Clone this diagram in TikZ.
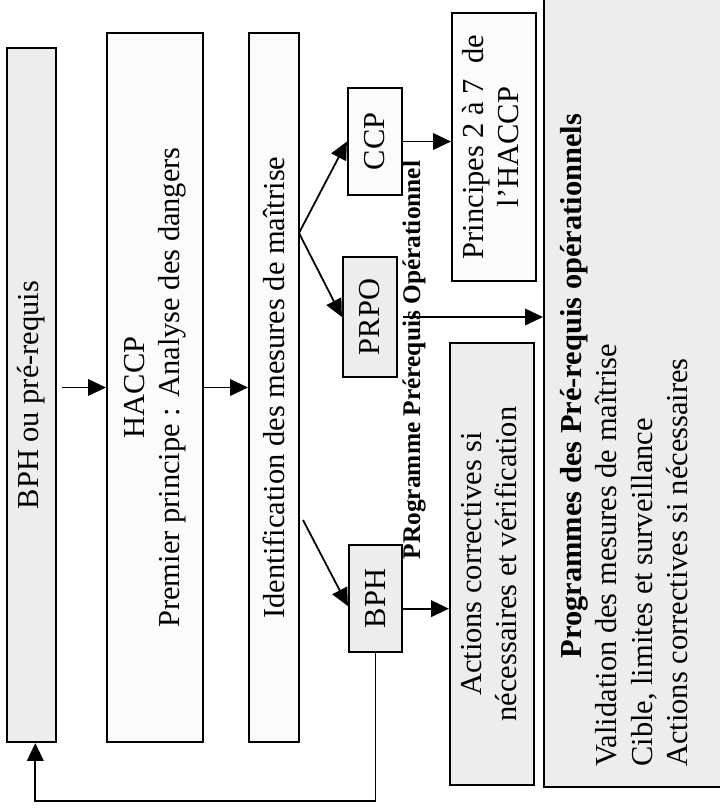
\documentclass[tikz,border=0pt]{standalone}
\usepackage{fontspec}
\setmainfont{Liberation Serif}
\usepackage{xcolor}
\usepackage{tikz}
\usetikzlibrary{positioning, arrows.meta, calc}

\definecolor{boxgray}{gray}{0.93}
\definecolor{boxpale}{gray}{0.985}

\begin{document}
\begin{tikzpicture}[x=0.394pt, y=-0.394pt,
    box/.style={draw, line width=0.85pt, inner sep=0pt, font=\fontsize{12}{14}\selectfont},
    size/.style 2 args={minimum width={#1*0.394pt}, minimum height={#2*0.394pt}},
    arr/.style={-{Triangle[length=7pt, width=6.5pt]}, line width=0.7pt}]
      \useasboundingbox (0,0) rectangle (719,811);

      \node[box, fill=boxgray, size={49}{694}] (bphpre) at (31.5,395) {\rotatebox{90}{BPH ou pré-requis}};
      \node[box, fill=boxpale, size={96}{709}] (haccp) at (155,387.5) {\rotatebox{90}{\begin{tabular}{@{}c@{}}HACCP\\Premier principe : Analyse des dangers\end{tabular}}};
      \node[box, fill=boxpale, size={50}{709}] (ident) at (274,387.5) {\rotatebox{90}{Identification des mesures de maîtrise}};
      \node[box, fill=boxpale, size={54}{107}] (ccp) at (375,141.5) {\rotatebox{90}{CCP}};
      \node[box, fill=boxgray, size={54}{120}] (prpo) at (370,317) {\rotatebox{90}{PRPO}};
      \node[box, fill=boxgray, size={53}{107}] (bph) at (375.5,598.5) {\rotatebox{90}{BPH}};
      \node[box, fill=boxpale, size={84}{268}] (princ) at (494,147) {\rotatebox{90}{\begin{tabular}{@{}c@{}}Principes 2 à 7 \ de\\l’HACCP\end{tabular}}};
      \node[box, fill=boxgray, size={84}{442}] (actions) at (492,564) {\rotatebox{90}{\begin{tabular}{@{}c@{}}Actions correctives si\\nécessaires et vérification\end{tabular}}};
      \node[box, fill=boxgray, size={216}{802}] (prog) at (652,386) {};
      \node[font=\fontsize{12}{14}\selectfont, inner sep=0pt] (progtxt) at (624,386) {\rotatebox{90}{\parbox{300pt}{\centering\textbf{Programmes des Pré-requis opérationnels}\par\raggedright Validation des mesures de maîtrise\\Cible, limites et surveillance\\Actions correctives si nécessaires}}};
      \node[font=\fontsize{10}{12}\selectfont\bfseries, rotate=90, inner sep=0pt] (prlbl) at (414,360) {PRogramme Prérequis Opérationnel};

      \coordinate (fork) at (299,233);
      \coordinate (fork2) at (303,520);

      \draw[arr, shorten <=2pt] (bphpre.east |- haccp.west) -- (haccp.west);
      \draw[arr] (haccp.east) -- (ident.west);
      \draw[arr] (fork) -- (ccp.west);
      \draw[arr] (fork) -- (prpo.west);
      \draw[arr] (fork2) -- ([yshift=-3pt]bph.west);
      \draw[arr] (ccp.east) -- (ccp.east -| princ.west);
      \draw[arr, shorten <=2pt] (prpo.east) -- (prpo.east -| prog.west);
      \draw[arr] ([yshift=-4pt]bph.east) -- ([yshift=-4pt]bph.east -| actions.west);
      \draw[arr] (bph.south) -- ++(0,148) -| ([xshift=1.5pt]bphpre.south);
    \end{tikzpicture}
\end{document}
